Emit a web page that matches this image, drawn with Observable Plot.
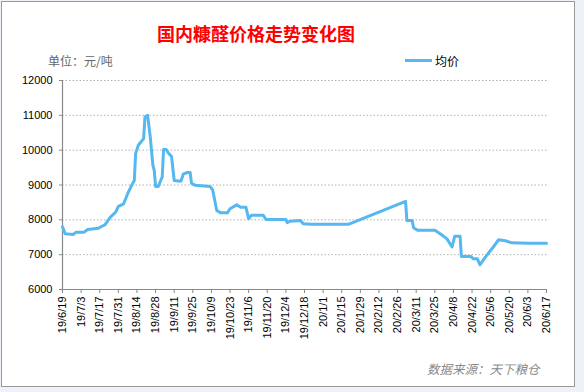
<!DOCTYPE html>
<html>
<head>
<meta charset="utf-8">
<script src="https://cdn.jsdelivr.net/npm/d3@7"></script>
<script src="https://cdn.jsdelivr.net/npm/@observablehq/plot@0.6"></script>
<style>
  body { margin: 0; background: #eef1f7; }
  #wrap { position: relative; width: 584px; height: 392px; overflow: hidden; }
  #frame { position: absolute; left: 1px; top: 1px; width: 572px; height: 384px; border: 1px solid #9a9a9a; background: #fff; }
  .txt { position: absolute; white-space: nowrap; font-family: "Noto Sans CJK SC", sans-serif; }
  #chart { position: absolute; left: 0; top: 0; }
</style>
</head>
<body>
<div id="wrap">
  <div id="frame"></div>
  <div class="txt" id="title" style="left:157px; top:21px; font-size:18px; font-weight:bold; color:#ff0000; line-height:24px;">国内糠醛价格走势变化图</div>
  <div class="txt" style="left:48px; top:53px; font-size:12px; color:#666; line-height:16px;">单位：元/吨</div>
  <div style="position:absolute; left:405px; top:59px; width:27px; height:3px; background:#55b8f0;"></div>
  <div class="txt" style="left:435px; top:53px; font-size:12px; color:#000; line-height:16px;">均价</div>
  <div class="txt" style="left:427px; top:361px; font-size:12.5px; font-style:italic; color:#8a8a8a; line-height:16px;">数据来源：天下粮仓</div>
  <div id="chart"></div>
</div>
<script>
const dates = [
  "2019-06-19","2019-06-21","2019-06-27","2019-06-29","2019-07-05","2019-07-08","2019-07-16","2019-07-21",
  "2019-07-25","2019-07-29","2019-07-31","2019-08-04","2019-08-07","2019-08-10","2019-08-12","2019-08-13",
  "2019-08-15","2019-08-19","2019-08-20","2019-08-22","2019-08-24","2019-08-26","2019-08-27","2019-08-28",
  "2019-08-30","2019-09-02","2019-09-03","2019-09-05","2019-09-07","2019-09-09","2019-09-11","2019-09-16",
  "2019-09-18","2019-09-21","2019-09-23","2019-09-24","2019-09-27","2019-10-08","2019-10-10","2019-10-13",
  "2019-10-16","2019-10-21","2019-10-23","2019-10-28","2019-10-31","2019-11-04","2019-11-06","2019-11-08",
  "2019-11-17","2019-11-19","2019-12-04","2019-12-05","2019-12-07","2019-12-15","2019-12-17","2019-12-23",
  "2020-01-20","2020-03-03","2020-03-04","2020-03-08","2020-03-09","2020-03-12","2020-03-25","2020-03-29",
  "2020-04-03","2020-04-07","2020-04-09","2020-04-13","2020-04-14","2020-04-21","2020-04-23","2020-04-26",
  "2020-04-28","2020-05-02","2020-05-08","2020-05-12","2020-05-17","2020-05-22","2020-06-03","2020-06-17"
];
const prices = [
  7800,7600,7580,7640,7640,7720,7760,7860,
  8080,8220,8385,8460,8750,8990,9130,9900,
  10140,10330,10950,11000,10380,9560,9420,8960,
  8960,9230,10020,10020,9900,9820,9130,9110,
  9320,9360,9360,9050,8990,8960,8850,8270,
  8200,8200,8320,8430,8360,8360,8030,8130,
  8130,8010,8010,7920,7960,7980,7890,7870,
  7870,8530,7980,7980,7770,7700,7700,7600,
  7460,7220,7530,7530,6950,6950,6880,6880,
  6710,6930,7220,7430,7400,7340,7330,7330
];
const yTicks = [6000, 7000, 8000, 9000, 10000, 11000, 12000];
const xStart = "2019-06-19";
const xEnd = "2020-06-17";
const tickStepDays = 14;

const data = dates.map((d, i) => ({date: new Date(d + "T00:00:00Z"), price: prices[i]}));
const start = new Date(xStart + "T00:00:00Z");
const end = new Date(xEnd + "T00:00:00Z");
const xTicks = d3.utcDay.every(1).range(start, d3.utcDay.offset(end, 1)).filter((d, i) => i % tickStepDays === 0);
const fmt = d => `${String(d.getUTCFullYear()).slice(2)}/${d.getUTCMonth() + 1}/${d.getUTCDate()}`;

const chart = Plot.plot({
  width: 584,
  height: 392,
  marginLeft: 62,
  marginRight: 38,
  marginTop: 80,
  marginBottom: 103,
  style: {background: "transparent", fontFamily: "'Liberation Sans', Arial, sans-serif", fontSize: "11px", color: "#000"},
  x: {type: "utc", domain: [start, end]},
  y: {domain: [6000, 12000]},
  marks: [
    Plot.gridY(yTicks, {stroke: "#b0b0b0", strokeOpacity: 1, strokeDasharray: "1.5,2", x1: start, x2: d3.utcDay.offset(end, 2)}),
    Plot.ruleX([start], {stroke: "#888", strokeWidth: 1.2}),
    Plot.ruleY([6000], {stroke: "#888", strokeWidth: 1.2}),
    Plot.axisY(yTicks, {tickSize: 3, tickPadding: 7, stroke: "#888", fill: "#000", fontSize: 11, tickFormat: d => String(d), label: null}),
    Plot.axisX(xTicks, {tickSize: 4, tickPadding: 3, tickRotate: -90, stroke: "#888", fill: "#000", fontSize: 11, tickFormat: fmt, label: null}),
    Plot.line(data, {x: "date", y: "price", stroke: "#55b8f0", strokeWidth: 3, strokeLinejoin: "round", strokeLinecap: "round"})
  ]
});
document.getElementById("chart").appendChild(chart);
</script>
</body>
</html>
